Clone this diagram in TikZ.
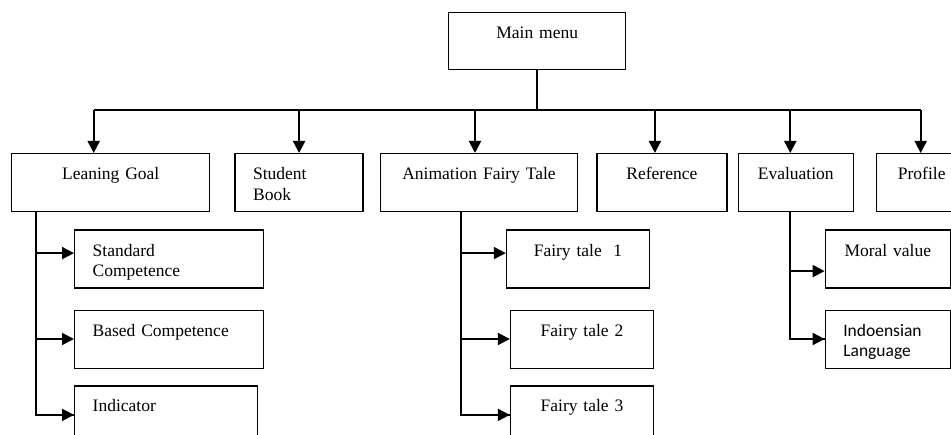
\documentclass[tikz,border=0pt]{standalone}
\usepackage{fontspec}
\setmainfont{Liberation Serif}
\newfontfamily\calibri{Carlito}
\usetikzlibrary{positioning, arrows.meta}

\begin{document}
\begin{tikzpicture}[
    x=1pt, y=1pt,
    base/.style={rectangle, draw, line width=1.4pt, inner xsep=18pt, inner ysep=0pt,
        text height=26pt, text depth=32pt, font=\fontsize{17.5}{20.5}\selectfont},
    menu/.style={base, align=center, text width={#1-36pt}},
    leftbox/.style={base, align=left, text width={#1-36pt}},
    sans/.style={font=\calibri\fontsize{17.5}{20.5}\selectfont},
    line/.style={line width=2pt},
    arrow/.style={line, -{Triangle[length=12pt, width=12pt]}}
]
    \useasboundingbox (0,0) rectangle (951,435);

    % --- MAIN ---
    \node (main) [menu=177pt, text depth=31pt, anchor=north west] at (448,423) {Main menu};
    \coordinate (bar) at ([yshift=-40pt]main.south);

    % --- TOP ROW ---
    \node (goal) [menu=198pt, anchor=north west] at (11,282) {Leaning Goal};
    \node (book) [leftbox=128pt, right=24pt of goal] {Student\\Book};
    \node (tale) [menu=197pt, right=16pt of book] {Animation Fairy Tale};
    \node (ref) [menu=130pt, right=18pt of tale] {Reference};
    \node (eval) [menu=115pt, right=10pt of ref] {Evaluation};
    \node (profile) [menu=90pt, right=22pt of eval] {Profile};

    % --- LEANING GOAL ---
    \node (standard) [leftbox=189pt, below right=17pt and 63pt of goal.south west] {Standard\\Competence};
    \node (based) [leftbox=189pt, below=21pt of standard] {Based Competence};
    \node (indicator) [leftbox=183pt, below right=16pt and 0pt of based.south west] {Indicator};

    % --- FAIRY TALES ---
    \node (tale1) [menu=143pt, below right=17pt and 126pt of tale.south west] {Fairy tale~~1};
    \node (tale2) [menu=143pt, below right=21pt and 4pt of tale1.south west] {Fairy tale 2};
    \node (tale3) [menu=143pt, below=16pt of tale2] {Fairy tale 3};

    % --- EVALUATION ---
    \node (moral) [menu=125pt, below right=17pt and 87pt of eval.south west] {Moral value};
    \node (lang) [leftbox=125pt, sans, below=21pt of moral] {Indoensian\\Language};

    % --- DRAW CONNECTIONS ---
    \coordinate (goalin) at ([xshift=-17pt]goal.north);
    \coordinate (talein) at ([xshift=-4pt]tale.north);
    \coordinate (refin) at ([xshift=-7pt]ref.north);
    \coordinate (evalin) at ([xshift=-5.5pt]eval.north);
    \coordinate (profin) at ([xshift=-1pt]profile.north);

    \draw [line] (main.south) -- (bar);
    \draw [line] (bar -| goalin) -- (bar -| profin);
    \foreach \n in {goalin, book.north, talein, refin, evalin, profin}
        \draw [arrow] (bar -| \n) -- (\n);

    % children
    \coordinate (goaltrunk) at ([xshift=25pt]goal.south west);
    \coordinate (taletrunk) at ([xshift=81pt]tale.south west);
    \coordinate (evaltrunk) at ([xshift=52pt]eval.south west);

    \draw [line] (goaltrunk) |- (indicator.west);
    \draw [arrow] (goaltrunk |- standard.west) ++(0,6) -- ([yshift=6pt]standard.west);
    \draw [arrow] (goaltrunk |- based.west) ++(0,0.5) -- ([yshift=0.5pt]based.west);
    \draw [arrow] (goaltrunk |- indicator.west) -- (indicator.west);

    \draw [line] (taletrunk) |- (tale3.west);
    \draw [arrow] (taletrunk |- tale1.west) ++(0,6) -- ([yshift=6pt]tale1.west);
    \draw [arrow] (taletrunk |- tale2.west) ++(0,0.5) -- ([yshift=0.5pt]tale2.west);
    \draw [arrow] (taletrunk |- tale3.west) -- (tale3.west);

    \draw [line] (evaltrunk) |- (lang.west);
    \draw [arrow] (evaltrunk |- moral.west) ++(0,-12) -- ([yshift=-12pt]moral.west);
    \draw [arrow] (evaltrunk |- lang.west) ++(0,0.5) -- ([yshift=0.5pt]lang.west);

\end{tikzpicture}
\end{document}
